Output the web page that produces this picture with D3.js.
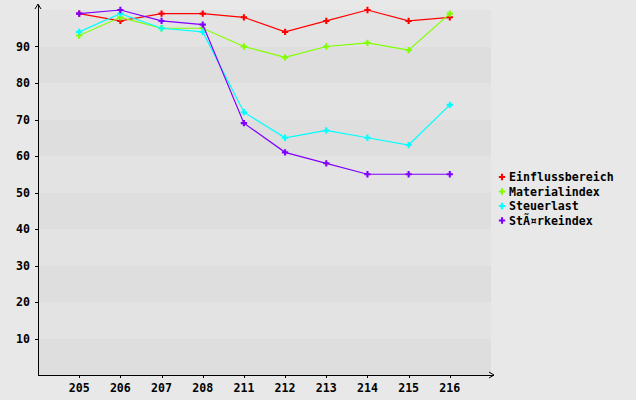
<!DOCTYPE html>
<html>
<head>
<meta charset="utf-8">
<script src="https://cdn.jsdelivr.net/npm/d3@7"></script>
<style>
body { margin: 0; background: #e8e8e8; }
text { font-family: "DejaVu Sans Mono", monospace; font-weight: bold; font-size: 11.6px; fill: #000; }
</style>
</head>
<body>
<svg></svg>
<script>
let width = 636
let height = 400

let categories = ['205', '206', '207', '208', '211', '212', '213', '214', '215', '216']
let seriesNames = ['Einflussbereich', 'Materialindex', 'Steuerlast', 'StÃ¤rkeindex']
let seriesColors = ['#ff0000', '#80ff00', '#00ffff', '#8000ff']
let einfluss = [99, 97, 99, 99, 98, 94, 97, 100, 97, 98]
let material = [93, 98, 95, 95, 90, 87, 90, 91, 89, 99]
let steuer = [94, 99, 95, 94, 72, 65, 67, 65, 63, 74]
let staerke = [99, 100, 97, 96, 69, 61, 58, 55, 55, 55]
let yTicks = [10, 20, 30, 40, 50, 60, 70, 80, 90]

let series = [einfluss, material, steuer, staerke].map((values, i) => ({
    name: seriesNames[i], color: seriesColors[i], values: values
}))

let plotLeft = 38, plotRight = 491, plotTop = 10, plotBottom = 375

let svg = d3.select('svg')
    .attr('width', width)
    .attr('height', height)
    .style('display', 'block')

let x = d3.scalePoint()
    .domain(categories)
    .range([plotLeft, plotRight])
    .padding(1)
let y = d3.scaleLinear()
    .domain([0, 100])
    .range([plotBottom, plotTop])

// alternating bands
let bands = d3.range(0, 100, 10)
svg.append('g').selectAll('rect')
    .data(bands).enter()
    .append('rect')
    .attr('x', plotLeft)
    .attr('width', plotRight - plotLeft)
    .attr('y', d => y(d + 10))
    .attr('height', d => y(d) - y(d + 10))
    .style('fill', d => (d / 10) % 2 === 0 ? '#dedede' : '#e3e3e3')

// axes
let axes = svg.append('g').attr('shape-rendering', 'crispEdges')
axes.append('line')
    .attr('x1', plotLeft).attr('x2', plotLeft)
    .attr('y1', 5).attr('y2', plotBottom)
    .style('stroke', '#000')
axes.append('line')
    .attr('x1', plotLeft).attr('x2', 494)
    .attr('y1', plotBottom).attr('y2', plotBottom)
    .style('stroke', '#000')
svg.append('path')
    .attr('d', `M${plotLeft - 3},9 L${plotLeft},4 L${plotLeft + 3},9`)
    .style('fill', 'none').style('stroke', '#000')
svg.append('path')
    .attr('d', `M489,${plotBottom - 3} L494,${plotBottom} L489,${plotBottom + 3}`)
    .style('fill', 'none').style('stroke', '#000')

axes.selectAll('.ytick')
    .data(yTicks).enter()
    .append('line')
    .attr('x1', plotLeft - 3).attr('x2', plotLeft)
    .attr('y1', d => Math.round(y(d))).attr('y2', d => Math.round(y(d)))
    .style('stroke', '#000')
svg.selectAll('.ylabel')
    .data(yTicks).enter()
    .append('text')
    .attr('x', 30)
    .attr('y', d => y(d) + 4)
    .attr('text-anchor', 'end')
    .text(d => d)

axes.selectAll('.xtick')
    .data(categories).enter()
    .append('line')
    .attr('x1', d => Math.round(x(d))).attr('x2', d => Math.round(x(d)))
    .attr('y1', plotBottom).attr('y2', plotBottom + 3)
    .style('stroke', '#000')
svg.selectAll('.xlabel')
    .data(categories).enter()
    .append('text')
    .attr('x', d => x(d))
    .attr('y', 392)
    .attr('text-anchor', 'middle')
    .text(d => d)

// lines
let line = d3.line()
    .x((d, i) => x(categories[i]))
    .y(d => y(d))
let symbol = d3.symbol().type(d3.symbolCross).size(22)

series.forEach(s => {
    svg.append('path')
        .datum(s.values)
        .attr('d', line)
        .style('fill', 'none')
        .style('stroke', s.color)
        .style('stroke-width', 1.2)
    svg.append('g').selectAll('path')
        .data(s.values).enter()
        .append('path')
        .attr('d', symbol)
        .attr('transform', (d, i) => `translate(${x(categories[i])},${y(d)})`)
        .style('fill', s.color)
})

// legend
let legend = svg.append('g').selectAll('g')
    .data(series).enter()
    .append('g')
    .attr('transform', (d, i) => `translate(502,${177 + i * 14.5})`)
legend.append('path')
    .attr('d', symbol)
    .style('fill', d => d.color)
legend.append('text')
    .attr('x', 7)
    .attr('y', 4)
    .text(d => d.name)
</script>
</body>
</html>
